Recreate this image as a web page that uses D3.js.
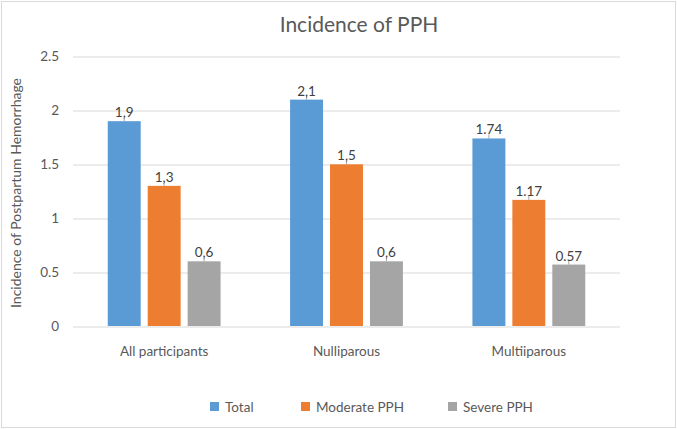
<!DOCTYPE html>
<html>
<head>
<meta charset="utf-8">
<script src="https://cdn.jsdelivr.net/npm/d3@7"></script>
<style>
  html, body { margin: 0; padding: 0; background: #fff; }
  svg { display: block; font-family: Lato, "Open Sans", sans-serif; }
</style>
</head>
<body>
<svg id="chart" width="677" height="429"></svg>
<script>
const categories = ["All participants", "Nulliparous", "Multiiparous"];
const seriesNames = ["Total", "Moderate PPH", "Severe PPH"];
const totalValues = [1.9, 2.1, 1.74];
const moderateValues = [1.3, 1.5, 1.17];
const severeValues = [0.6, 0.6, 0.57];
const totalLabels = ["1,9", "2,1", "1.74"];
const moderateLabels = ["1,3", "1,5", "1.17"];
const severeLabels = ["0,6", "0,6", "0.57"];
const yTicks = [0, 0.5, 1, 1.5, 2, 2.5];
const colors = ["#5B9BD5", "#ED7D31", "#A5A5A5"];

const seriesValues = [totalValues, moderateValues, severeValues];
const seriesLabels = [totalLabels, moderateLabels, severeLabels];

const svg = d3.select("#chart");
const W = 677, H = 429;
const margin = { left: 73, right: 57, top: 56.5, bottom: 103 };
const plotW = W - margin.left - margin.right;
const plotH = H - margin.top - margin.bottom;

// border
svg.append("rect").attr("x", 1.5).attr("y", 1.5).attr("width", W - 3).attr("height", H - 3)
  .attr("fill", "#fff").attr("stroke", "#d9d9d9").attr("stroke-width", 1);

const g = svg.append("g").attr("transform", `translate(${margin.left},${margin.top})`);

const x0 = d3.scaleBand().domain(categories).range([0, plotW]).padding(0);
const x1 = d3.scaleBand().domain(seriesNames).range([0, x0.bandwidth()])
  .paddingInner(0.175).paddingOuter(0.87);
const y = d3.scaleLinear().domain([0, 2.5]).range([plotH, 0]);

// gridlines
g.append("g").selectAll("line").data(yTicks).join("line")
  .attr("x1", 0).attr("x2", plotW)
  .attr("y1", d => Math.round(y(d)) + 0.5).attr("y2", d => Math.round(y(d)) + 0.5)
  .attr("stroke", "#d9d9d9").attr("stroke-width", 1);

// y axis tick labels
const yAxis = d3.axisLeft(y).tickValues(yTicks).tickSize(0).tickPadding(14)
  .tickFormat(d => String(d));
const ya = g.append("g").call(yAxis);
ya.select(".domain").remove();
ya.selectAll("text").attr("fill", "#595959").style("font-size", "13.5px")
  .style("font-family", "Lato, 'Open Sans', sans-serif");

// x axis labels
const xAxis = d3.axisBottom(x0).tickSize(0).tickPadding(20);
const xa = g.append("g").attr("transform", `translate(0,${plotH})`).call(xAxis);
xa.select(".domain").remove();
xa.selectAll("text").attr("fill", "#595959").style("font-size", "13.5px")
  .style("font-family", "Lato, 'Open Sans', sans-serif");

// bars
const data = [];
categories.forEach((c, i) => {
  seriesNames.forEach((s, j) => {
    data.push({ cat: c, series: s, value: seriesValues[j][i], label: seriesLabels[j][i], color: colors[j] });
  });
});

const bars = g.append("g").selectAll("g").data(data).join("g")
  .attr("transform", d => `translate(${x0(d.cat) + x1(d.series)},0)`);

bars.append("rect")
  .attr("x", 0).attr("width", x1.bandwidth())
  .attr("y", d => y(d.value)).attr("height", d => plotH - y(d.value))
  .attr("fill", d => d.color);

// small leader line
bars.append("line")
  .attr("x1", x1.bandwidth() / 2).attr("x2", x1.bandwidth() / 2)
  .attr("y1", d => y(d.value)).attr("y2", d => y(d.value) - 4)
  .attr("stroke", "#a6a6a6").attr("stroke-width", 1);

bars.append("text")
  .attr("x", x1.bandwidth() / 2)
  .attr("y", d => y(d.value) - 4)
  .attr("text-anchor", "middle")
  .attr("fill", "#404040").style("font-size", "13.5px")
  .text(d => d.label);

// title
svg.append("text").attr("x", 359).attr("y", 32).attr("text-anchor", "middle")
  .attr("fill", "#595959").style("font-size", "21px").text("Incidence of PPH");

// y title
svg.append("text").attr("transform", `translate(21,193) rotate(-90)`)
  .attr("text-anchor", "middle").attr("fill", "#595959").style("font-size", "14px")
  .text("Incidence of Postpartum Hemorrhage");

// legend
const legendX = [210, 301, 448];
const lg = svg.append("g").selectAll("g").data(seriesNames).join("g")
  .attr("transform", (d, i) => `translate(${legendX[i]},402)`);
lg.append("rect").attr("width", 9).attr("height", 9).attr("fill", (d, i) => colors[i]);
lg.append("text").attr("x", 15).attr("y", 9.5).attr("fill", "#595959")
  .style("font-size", "13.5px").text(d => d);
</script>
</body>
</html>
